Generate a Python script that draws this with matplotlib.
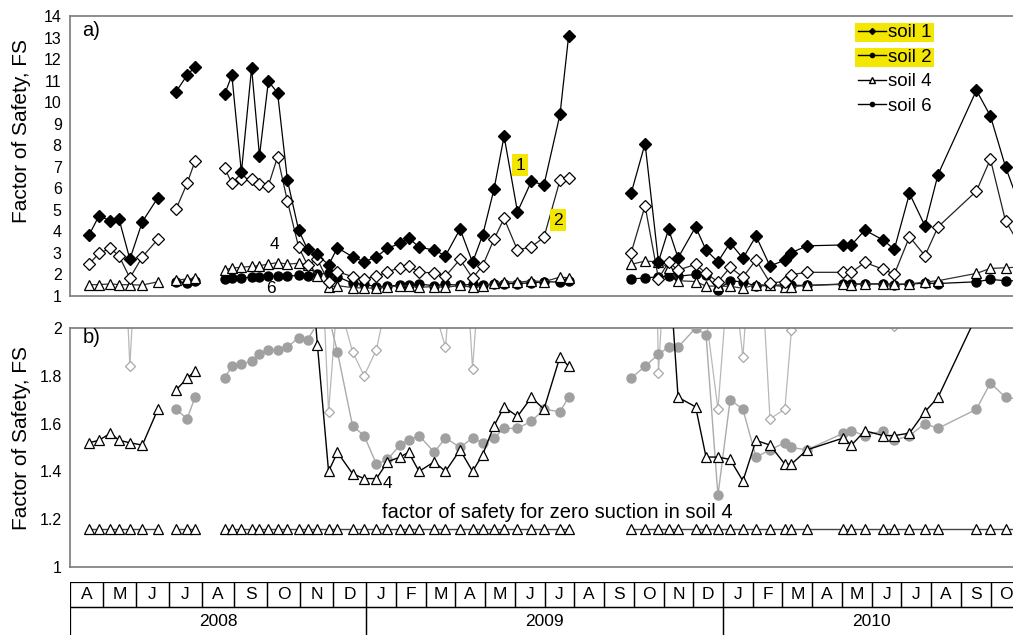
import numpy as np
import matplotlib
matplotlib.use("Agg")
import matplotlib.pyplot as plt
from matplotlib.lines import Line2D
from matplotlib.patches import Rectangle

nan = float("nan")

# ---------------- data ----------------
# x: months since 1 April 2008 (NaN = gap in the record)
month_pos = [0.58, 0.88, 1.23, 1.49, 1.82, 2.20, 2.67, nan,
             3.22, 3.56, 3.80, nan,
             4.70, 4.92, 5.21, 5.52, 5.76, 6.03, 6.31, 6.61, 6.95, 7.22,
             7.52, 7.86, 8.13, 8.59, 8.94, 9.35, 9.72, 10.14, 10.43, 10.78,
             11.29, 11.67, 12.16, 12.58, 12.92, 13.30, 13.64, 14.09, 14.56, 14.98,
             15.52, 15.81, nan,
             17.91, 18.38, 18.83, 19.17, 19.49, 20.08, 20.43, 20.83, 21.24, 21.67,
             22.11, 22.58, 23.08, 23.30, 23.82, 25.05, 25.32, 25.77, 26.38, 26.76,
             27.27, 27.79, 28.23, 29.52, 29.99, 30.50, 31.05]

fs_soil1 = [3.83, 4.72, 4.49, 4.57, 2.71, 4.45, 5.56, nan,
            10.48, 11.25, 11.64, nan,
            10.36, 11.25, 6.74, 11.59, 7.51, 10.97, 10.43, 6.37, 4.06, 3.17,
            2.93, 2.44, 3.24, 2.82, 2.59, 2.82, 3.22, 3.44, 3.70, 3.27,
            3.13, 2.87, 4.11, 2.56, 3.83, 5.95, 8.42, 4.91, 6.33, 6.15,
            9.43, 13.07, nan,
            5.76, 8.08, 2.59, 4.10, 2.77, 4.21, 3.13, 2.59, 3.47, 2.75,
            3.78, 2.39, 2.67, 3.01, 3.33, 3.37, 3.37, 4.06, 3.60, 3.17,
            5.76, 4.26, 6.64, 10.55, 9.36, 6.99, 4.90]

fs_soil2 = [2.48, 2.98, 3.21, 2.86, 1.84, 2.82, 3.63, nan,
            5.02, 6.23, 7.26, nan,
            6.95, 6.23, 6.43, 6.43, 6.18, 6.12, 7.46, 5.40, 3.27, 2.44,
            2.70, 1.65, 2.13, 1.90, 1.80, 1.91, 2.13, 2.31, 2.41, 2.10,
            2.08, 1.92, 2.70, 1.83, 2.41, 3.63, 4.60, 3.13, 3.29, 3.72,
            6.38, 6.49, nan,
            3.00, 5.19, 1.81, 2.57, 2.20, 2.47, 2.05, 1.66, 2.33, 1.88,
            2.67, 1.62, 1.66, 1.99, 2.10, 2.10, 2.10, 2.56, 2.24, 2.01,
            3.75, 2.87, 4.21, 5.87, 7.35, 4.48, 3.20]

fs_soil4 = [1.52, 1.53, 1.56, 1.53, 1.52, 1.51, 1.66, nan,
            1.74, 1.79, 1.82, nan,
            2.21, 2.30, 2.33, 2.38, 2.41, 2.48, 2.55, 2.48, 2.52, 2.45,
            1.93, 1.40, 1.48, 1.39, 1.37, 1.37, 1.44, 1.46, 1.48, 1.40,
            1.44, 1.40, 1.49, 1.40, 1.47, 1.59, 1.67, 1.63, 1.71, 1.66,
            1.88, 1.84, nan,
            2.47, 2.62, 2.59, 2.30, 1.71, 1.67, 1.46, 1.46, 1.45, 1.36,
            1.53, 1.51, 1.43, 1.43, 1.49, 1.54, 1.51, 1.57, 1.55, 1.55,
            1.56, 1.65, 1.71, 2.05, 2.28, 2.31, 2.35]

fs_soil6 = [nan, nan, nan, nan, nan, nan, nan, nan,
            1.66, 1.62, 1.71, nan,
            1.79, 1.84, 1.85, 1.86, 1.89, 1.91, 1.91, 1.92, 1.96, 1.95,
            2.02, 2.05, 1.90, 1.59, 1.55, 1.43, 1.45, 1.51, 1.53, 1.55,
            1.48, 1.54, 1.50, 1.54, 1.52, 1.54, 1.58, 1.58, 1.61, 1.66,
            1.65, 1.71, nan,
            1.79, 1.84, 1.89, 1.92, 1.92, 2.00, 1.97, 1.30, 1.70, 1.66,
            1.46, 1.49, 1.52, 1.50, 1.49, 1.56, 1.57, 1.55, 1.57, 1.53,
            1.55, 1.60, 1.58, 1.66, 1.77, 1.71, 1.70]

zero_suction_fs = 1.16   # factor of safety for zero suction in soil 4

month_labels = ["A", "M", "J", "J", "A", "S", "O", "N", "D",
                "J", "F", "M", "A", "M", "J", "J", "A", "S", "O", "N", "D",
                "J", "F", "M", "A", "M", "J", "J", "A", "S", "O"]
year_labels = ["2008", "2009", "2010"]
year_month_counts = [9, 12, 10]

# ---------------- style ----------------
plt.rcParams["font.family"] = ["Liberation Sans", "DejaVu Sans"]
YELLOW = "#f3e600"
SPINE = "#7a7a7a"

W08 = 1.106  # 2008 months are drawn wider in the original strip


def fwd(t):
    t = np.asarray(t, float)
    return np.where(t < 9, t * W08, 9 * W08 + (t - 9))


def inv(u):
    u = np.asarray(u, float)
    return np.where(u < 9 * W08, u / W08, u - 9 * W08 + 9)


t = np.array(month_pos, float)
s1 = np.array(fs_soil1, float)
s2 = np.array(fs_soil2, float)
s4 = np.array(fs_soil4, float)
s6 = np.array(fs_soil6, float)
zs = np.where(np.isnan(t), nan, zero_suction_fs)

W, H = 1013, 635
fig = plt.figure(figsize=(W / 100, H / 100), dpi=100)

XMAX = 30.75
L = 70 / W
AW = 1 - L


def style_axes(ax):
    ax.set_xscale("function", functions=(fwd, inv))
    ax.set_xlim(0, XMAX)
    ax.set_xticks([])
    for side in ("left", "top", "bottom"):
        ax.spines[side].set_color(SPINE)
        ax.spines[side].set_linewidth(1.2)
    ax.spines["right"].set_visible(False)
    ax.tick_params(axis="y", length=0, pad=6, labelsize=11.5)


# ---------- panel a ----------
ax1 = fig.add_axes([L, 1 - 296 / H, AW, 280 / H])
style_axes(ax1)
ax1.set_ylim(1, 14)
ax1.set_yticks(range(1, 15))
ax1.plot(t, s6, color="black", lw=0.9, marker="o", ms=6.5, mfc="black", mec="black", zorder=3)
ax1.plot(t, s4, color="#333333", lw=0.9, marker="^", ms=6.5, mfc="white", mec="black", mew=0.9, zorder=3)
ax1.plot(t, s2, color="#222222", lw=0.9, marker="D", ms=6, mfc="white", mec="black", mew=0.9, zorder=4)
ax1.plot(t, s1, color="black", lw=0.9, marker="D", ms=6.5, mfc="black", mec="black", zorder=5)
ax1.set_ylabel("Factor of Safety, FS", fontsize=15)
ax1.yaxis.set_label_coords(-0.041, 0.59)

ax1.text(0.013, 0.95, "a)", transform=ax1.transAxes, fontsize=14.5, va="center", ha="left")
ax1.text(14.18, 7.08, "1", fontsize=12.5, ha="center", va="center",
         bbox=dict(facecolor=YELLOW, edgecolor="none", pad=2.5), zorder=6)
ax1.text(15.45, 4.52, "2", fontsize=12.5, ha="center", va="center",
         bbox=dict(facecolor=YELLOW, edgecolor="none", pad=2.5), zorder=6)
ax1.text(6.20, 3.41, "4", fontsize=12.5, ha="center", va="center")
ax1.text(6.11, 1.37, "6", fontsize=12.5, ha="center", va="center")

handles = [
    Line2D([], [], color="black", lw=1, marker="D", ms=3, mfc="black"),
    Line2D([], [], color="black", lw=1, marker="o", ms=3, mfc="black"),
    Line2D([], [], color="black", lw=1, marker="^", ms=4.5, mfc="white", mec="black"),
    Line2D([], [], color="black", lw=1, marker="o", ms=3, mfc="black"),
]
leg = ax1.legend(handles, ["soil 1", "soil 2", "soil 4", "soil 6"],
                 loc="upper left", bbox_to_anchor=(858 / W, 1 - 24 / H),
                 bbox_transform=fig.transFigure, frameon=False, fontsize=13.5,
                 borderpad=0, borderaxespad=0, handlelength=1.5,
                 handletextpad=0.1, labelspacing=0.4)
leg.set_zorder(6)

# ---------- panel b ----------
ax2 = fig.add_axes([L, 1 - 567 / H, AW, 239 / H])
style_axes(ax2)
ax2.set_ylim(1, 2)
ax2.set_yticks([1, 1.2, 1.4, 1.6, 1.8, 2])
ax2.set_yticklabels(["1", "1.2", "1.4", "1.6", "1.8", "2"])
ax2.plot(t, zs, color="#444444", lw=1.0, marker="^", ms=7, mfc="white", mec="black", mew=0.9, zorder=3)
ax2.plot(t, s1, color="black", lw=0.9, zorder=2)
ax2.plot(t, s2, color="#b8b8b8", lw=0.9, marker="D", ms=5, mfc="white", mec="#a8a8a8", mew=0.9, zorder=2)
ax2.plot(t, s6, color="#ababab", lw=1.0, marker="o", ms=6.5, mfc="#a0a0a0", mec="#a0a0a0", zorder=3)
ax2.plot(t, s4, color="black", lw=1.0, marker="^", ms=7, mfc="white", mec="black", mew=0.9, zorder=4)
ax2.set_ylabel("Factor of Safety, FS", fontsize=15)
ax2.yaxis.set_label_coords(-0.041, 0.54)
ax2.text(0.013, 0.962, "b)", transform=ax2.transAxes, fontsize=14.5, va="center", ha="left")
ax2.text(9.71, 1.35, "4", fontsize=12.5, ha="center", va="center")
ax2.text(15.42, 1.226, "factor of safety for zero suction in soil 4",
         fontsize=14.5, ha="center", va="center")

# ---------- month / year strip ----------
axt = fig.add_axes([L, 1 - 662 / H, AW, 80 / H])
axt.set_xscale("function", functions=(fwd, inv))
axt.set_xlim(0, XMAX)
axt.set_ylim(80, 0)
axt.axis("off")
for i, lab in enumerate(month_labels):
    axt.add_patch(Rectangle((i, 0), 1, 25, fill=False, ec="black", lw=0.9, clip_on=True))
    axt.text(i + 0.5, 12.8, lab, ha="center", va="center", fontsize=12.5, clip_on=True)
start = 0
for lab, n in zip(year_labels, year_month_counts):
    axt.add_patch(Rectangle((start, 25), n, 60, fill=False, ec="black", lw=0.9, clip_on=True))
    axt.text(start + n / 2, 39.5, lab, ha="center", va="center", fontsize=12.5, clip_on=True)
    start += n

# ---------- yellow highlight behind legend entries soil 1 / soil 2 ----------
fig.canvas.draw()
renderer = fig.canvas.get_renderer()
inv_ax = ax1.transAxes.inverted()
for i in (0, 1):
    tb = leg.get_texts()[i].get_window_extent(renderer)
    hb = leg.legend_handles[i].get_window_extent(renderer)
    x0 = min(tb.x0, hb.x0) - 1
    x1 = tb.x1 + 2
    y0 = tb.y0 - 1
    y1 = tb.y1 + 1
    (ax0, ay0), (ax1_, ay1) = inv_ax.transform([(x0, y0), (x1, y1)])
    ax1.add_patch(Rectangle((ax0, ay0), ax1_ - ax0, ay1 - ay0, transform=ax1.transAxes,
                            facecolor=YELLOW, edgecolor="none", zorder=5.5, clip_on=False))

fig.savefig("out.png", dpi=100)
